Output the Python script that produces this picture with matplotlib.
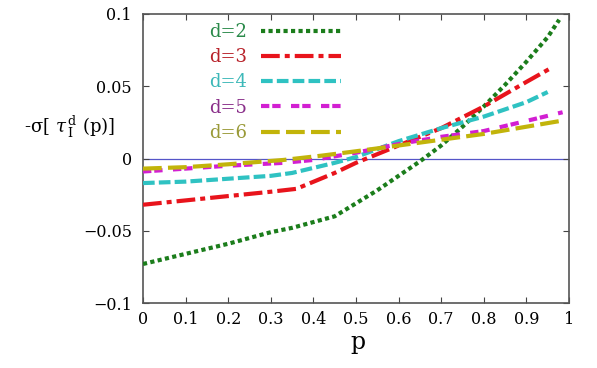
import matplotlib
matplotlib.use("Agg")
import matplotlib.pyplot as plt
from matplotlib.lines import Line2D

plt.rcParams["font.family"] = ["DejaVu Serif"]
plt.rcParams["mathtext.fontset"] = "dejavuserif"

# curves: p -> -sigma[tau_I^d(p)]
p2 = [0.0, 0.1, 0.2, 0.3, 0.35, 0.45, 0.5, 0.55, 0.6, 0.65, 0.7, 0.75, 0.8, 0.85, 0.9, 0.95, 0.977]
d2 = [-0.073, -0.066, -0.059, -0.051, -0.048, -0.040, -0.031, -0.022, -0.012, -0.002, 0.009, 0.022, 0.036, 0.051, 0.067, 0.084, 0.096]

p3 = [0.0, 0.1, 0.2, 0.3, 0.36, 0.45, 0.5, 0.6, 0.7, 0.8, 0.9, 0.96]
d3 = [-0.032, -0.029, -0.026, -0.023, -0.021, -0.010, -0.003, 0.009, 0.021, 0.036, 0.053, 0.063]

p4 = [0.0, 0.1, 0.2, 0.3, 0.35, 0.45, 0.5, 0.6, 0.7, 0.8, 0.9, 0.95]
d4 = [-0.017, -0.016, -0.014, -0.012, -0.010, -0.003, 0.001, 0.012, 0.021, 0.029, 0.039, 0.046]

p5 = [0.0, 0.1, 0.2, 0.33, 0.4, 0.5, 0.6, 0.7, 0.8, 0.9, 0.985]
d5 = [-0.009, -0.007, -0.005, -0.003, -0.001, 0.004, 0.010, 0.015, 0.019, 0.026, 0.032]

p6 = [0.0, 0.1, 0.2, 0.33, 0.42, 0.5, 0.6, 0.7, 0.8, 0.9, 0.98]
d6 = [-0.007, -0.006, -0.004, -0.001, 0.002, 0.005, 0.009, 0.013, 0.017, 0.022, 0.026]

labels = ["d=2", "d=3", "d=4", "d=5", "d=6"]
line_colors = ["#1b7d1b", "#e8141c", "#2fc2c2", "#d21fd2", "#c2b40a"]
text_colors = ["#2a8a4a", "#b8222a", "#3cb8b8", "#8a2f8a", "#9a9a38"]
dashes = [(1.0, 0.8), (4.5, 1.2, 1.2, 1.2), (2.8, 1.0), (2.0, 0.7, 2.0, 2.5), (4.5, 1.5)]

fig = plt.figure(figsize=(5.97, 3.68), dpi=100)
ax = fig.add_axes([143 / 597, 1 - 303 / 368, 426 / 597, 289 / 368])

ax.axhline(0, color="#5555c8", lw=0.9, zorder=1)

series = [(p2, d2), (p3, d3), (p4, d4), (p5, d5), (p6, d6)]
handles = []
for (xs, ys), c, ds, lab in zip(series, line_colors, dashes, labels):
    ax.plot(xs, ys, color=c, lw=3.0, dashes=ds, dash_capstyle="butt", label=lab, zorder=3)
    handles.append(Line2D([], [], color=c, lw=3.0, dashes=ds, dash_capstyle="butt"))

ax.set_xlim(0, 1)
ax.set_ylim(-0.1, 0.1)
ax.set_xticks([0, 0.1, 0.2, 0.3, 0.4, 0.5, 0.6, 0.7, 0.8, 0.9, 1])
ax.set_xticklabels(["0", "0.1", "0.2", "0.3", "0.4", "0.5", "0.6", "0.7", "0.8", "0.9", "1"])
ax.set_yticks([-0.1, -0.05, 0, 0.05, 0.1])
ax.set_yticklabels(["\u22120.1", "\u22120.05", "0", "0.05", "0.1"])
ax.tick_params(direction="in", top=True, right=True, length=4, width=0.8,
               color="#444444", labelsize=11.5, pad=6)
ax.tick_params(axis="y", pad=8)
for s in ax.spines.values():
    s.set_color("#555555")
    s.set_linewidth(1.2)

leg = fig.legend(handles, labels, loc="upper left", bbox_to_anchor=(209 / 597, 1 - 23 / 368),
                 frameon=False, markerfirst=False, fontsize=13, handlelength=4.4,
                 handletextpad=0.8, labelspacing=0.4, borderpad=0, borderaxespad=0)
for t, c in zip(leg.get_texts(), text_colors):
    t.set_color(c)

fig.text(24 / 597, 1 - 127 / 368, r"-σ[ $\tau^{\,\mathrm{d}}_{\,\mathrm{I}}$ (p)]",
         fontsize=13, ha="left", va="center")
fig.text(358 / 597, 1 - 342 / 368, "p", fontsize=17, ha="center", va="center")

fig.savefig("out.png", dpi=100, facecolor="white")
